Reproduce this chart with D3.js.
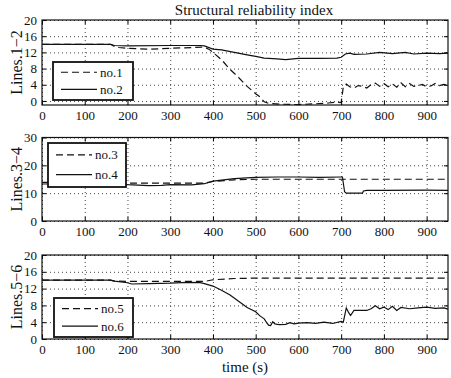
<!DOCTYPE html>
<html>
<head>
  <script src="https://cdn.jsdelivr.net/npm/d3@7"></script>
  <style>
    body { margin: 0; background: #fff; }
    text { font-family: "Liberation Serif", "Times New Roman", serif; }
  </style>
</head>
<body>
  <svg width="451" height="378" id="mainsvg"></svg>
  <script>
    // [time (s), index] pairs
    const no1 = [[0,14],[160,14],[170,13.4],[180,13.2],[200,13],[250,12.8],[300,13],[350,13.2],[380,13.3],[390,12.8],[400,12],[420,10.2],[440,7.8],[460,5.8],[480,3.6],[500,1.8],[510,1],[520,-0.2],[530,-0.6],[560,-0.8],[600,-0.9],[640,-0.7],[670,-0.5],[690,-0.3],[700,-0.4],[705,3.5],[712,4.2],[720,3.5],[730,3.2],[740,3.8],[750,3.6],[760,3.2],[770,4],[780,4.4],[790,3.6],[800,4.3],[810,3.5],[820,4.2],[830,3.4],[840,4.5],[850,3.5],[860,4.3],[870,3.6],[880,3.8],[890,4.1],[900,3.5],[910,3.7],[920,4.3],[930,3.8],[940,4.1],[950,3.9]];
    const no2 = [[0,14],[160,14],[170,13.7],[200,13.6],[300,13.7],[370,13.7],[380,13.6],[400,12.8],[420,12.6],[450,12],[480,11.4],[500,11],[520,10.6],[550,10.4],[570,10.2],[600,10.5],[650,10.5],[690,10.6],[700,10.8],[710,11.6],[720,11.8],[730,11.5],[760,11.6],[790,12],[820,11.7],[850,12],[870,11.6],[900,11.8],[930,11.7],[950,11.8]];
    const no3 = [[0,13.9],[160,13.9],[170,13.8],[200,13.6],[300,13.6],[380,13.6],[400,14.2],[450,14.8],[500,15],[700,15],[950,15]];
    const no4 = [[0,13.3],[150,13.5],[165,13.6],[170,14.1],[180,13.4],[200,13.1],[250,12.7],[280,12.8],[300,13.1],[350,13],[380,13.4],[400,14.3],[450,15.2],[500,15.7],[550,15.8],[600,15.8],[650,15.7],[700,15.8],[703,15.8],[708,10.5],[712,10],[750,10],[752,10.8],[760,11],[800,11],[900,11.1],[950,11]];
    const no5 = [[0,14],[160,14],[170,13.8],[200,13.7],[300,13.7],[380,13.7],[400,14.1],[450,14.4],[500,14.5],[950,14.5]];
    const no6 = [[0,14],[160,14],[170,13.8],[200,13.4],[210,13.1],[250,13.2],[300,13.3],[340,13.5],[370,13.4],[380,13.2],[400,12.6],[420,11.6],[440,10.5],[460,9],[480,7.5],[500,6.5],[510,5.5],[520,4.8],[525,4],[530,3.3],[535,3.2],[540,4.1],[545,3.6],[555,3.4],[570,3.5],[580,3.9],[590,3.6],[600,3.8],[620,3.9],[640,3.7],[660,4],[680,3.7],[700,4.2],[705,4],[712,7.4],[718,6.2],[722,5.6],[730,6.8],[760,6.8],[770,7.2],[780,7.9],[790,7.2],[800,7.6],[810,7],[820,7.8],[830,6.8],[840,7.5],[860,7.2],[880,7.4],[900,7.6],[920,7.3],[940,7.4],[950,7.1]];

    const xTicks = [0,100,200,300,400,500,600,700,800,900];
    const yTicks12 = [0,4,8,12,16,20];
    const yTicks34 = [0,10,20,30];
    const yTicks56 = [0,4,8,12,16,20];

    const svg = d3.select('#mainsvg');
    const x = d3.scaleLinear().domain([0, 950]).range([42, 448]);

    const panels = [
      { label: 'Lines.1\u22122', domain: [-1, 20], range: [105, 20], ticks: yTicks12,
        series: [{ name: 'no.1', data: no1, dash: '7,4' }, { name: 'no.2', data: no2 }],
        legend: { x: 53, y: 62, w: 80, h: 38 } },
      { label: 'Lines.3\u22124', domain: [0, 30], range: [221, 137.5], ticks: yTicks34,
        series: [{ name: 'no.3', data: no3, dash: '7,4' }, { name: 'no.4', data: no4 }],
        legend: { x: 48, y: 143, w: 78, h: 44 } },
      { label: 'Lines.5\u22126', domain: [0, 20], range: [339, 255], ticks: yTicks56,
        series: [{ name: 'no.5', data: no5, dash: '7,4' }, { name: 'no.6', data: no6 }],
        legend: { x: 54, y: 298, w: 79, h: 39 } }
    ];

    panels.forEach(p => {
      const y = d3.scaleLinear().domain(p.domain).range(p.range);
      const top = p.range[1], bottom = p.range[0];
      const g = svg.append('g');

      // dotted grid
      g.append('g').attr('transform', `translate(0,${bottom})`)
        .call(d3.axisBottom(x).tickValues(xTicks).tickSize(-(bottom - top)).tickFormat(''))
        .call(a => a.select('.domain').remove())
        .selectAll('line').attr('stroke', '#444').attr('stroke-dasharray', '1,3');
      g.append('g').attr('transform', `translate(${x.range()[0]},0)`)
        .call(d3.axisLeft(y).tickValues(p.ticks).tickSize(-(x.range()[1] - x.range()[0])).tickFormat(''))
        .call(a => a.select('.domain').remove())
        .selectAll('line').attr('stroke', '#444').attr('stroke-dasharray', '1,3');

      // lines
      const line = d3.line().x(d => x(d[0])).y(d => y(d[1]));
      p.series.forEach(s => {
        g.append('path').datum(s.data).attr('d', line)
          .attr('fill', 'none').attr('stroke', '#111').attr('stroke-width', 1.2)
          .attr('stroke-dasharray', s.dash || null);
      });

      // axes with inward ticks
      g.append('g').attr('transform', `translate(0,${bottom})`)
        .call(d3.axisBottom(x).tickValues(xTicks).tickSize(-4).tickSizeOuter(0).tickPadding(6));
      g.append('g').attr('transform', `translate(0,${top})`)
        .call(d3.axisTop(x).tickValues(xTicks).tickSize(-4).tickSizeOuter(0).tickFormat(''));
      g.append('g').attr('transform', `translate(${x.range()[0]},0)`)
        .call(d3.axisLeft(y).tickValues(p.ticks).tickSize(-4).tickSizeOuter(0).tickPadding(5));
      g.append('g').attr('transform', `translate(${x.range()[1]},0)`)
        .call(d3.axisRight(y).tickValues(p.ticks).tickSize(-4).tickSizeOuter(0).tickFormat(''));
      g.selectAll('.domain').remove();
      g.selectAll('.tick text').attr('font-size', 13).attr('fill', '#111')
        .style('font-family', '"Liberation Serif", serif');

      g.append('rect').attr('x', x.range()[0]).attr('y', top)
        .attr('width', x.range()[1] - x.range()[0]).attr('height', bottom - top)
        .attr('fill', 'none').attr('stroke', '#111').attr('stroke-width', 1.2);

      g.append('text').attr('transform', `translate(22,${(top + bottom) / 2}) rotate(-90)`)
        .attr('text-anchor', 'middle').attr('font-size', 16).attr('fill', '#111').text(p.label);

      // legend
      const L = p.legend;
      const lg = g.append('g');
      lg.append('rect').attr('x', L.x).attr('y', L.y).attr('width', L.w).attr('height', L.h)
        .attr('fill', '#fff').attr('stroke', '#111').attr('stroke-width', 1.8);
      p.series.forEach((s, i) => {
        const ry = L.y + L.h * (i === 0 ? 0.27 : 0.72);
        lg.append('line').attr('x1', L.x + 8).attr('x2', L.x + 44).attr('y1', ry).attr('y2', ry)
          .attr('stroke', '#111').attr('stroke-width', 1.2).attr('stroke-dasharray', s.dash || null);
        lg.append('text').attr('x', L.x + 47).attr('y', ry).attr('dy', '0.35em')
          .attr('font-size', 13).attr('fill', '#111').text(s.name);
      });
    });

    svg.append('text').attr('x', 254).attr('y', 15).attr('text-anchor', 'middle')
      .attr('font-size', 15).attr('fill', '#111').text('Structural reliability index');
    svg.append('text').attr('x', 245).attr('y', 372).attr('text-anchor', 'middle')
      .attr('font-size', 15).attr('fill', '#111').text('time (s)');
  </script>
</body>
</html>
